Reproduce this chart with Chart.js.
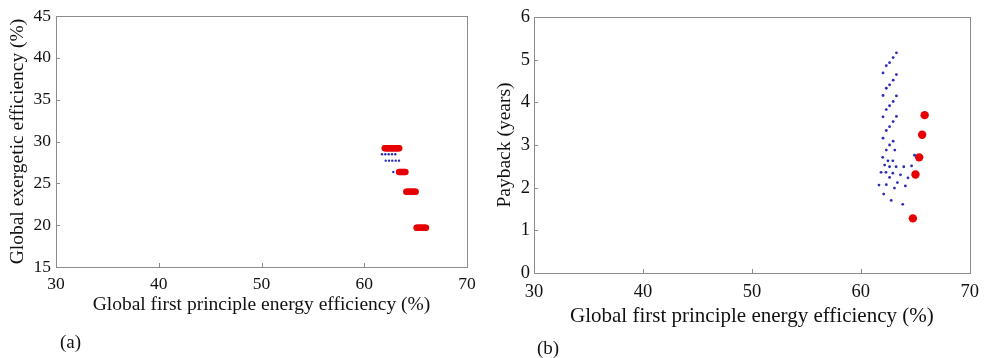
<!DOCTYPE html>
<html>
<head>
<meta charset="utf-8">
<script src="https://cdn.jsdelivr.net/npm/chart.js@4/dist/chart.umd.min.js"></script>
<style>
  html,body{margin:0;padding:0;background:#fff;}
  #wrap{position:relative;width:987px;height:358px;overflow:hidden;}
  .cv{position:absolute;top:0;}
  .tag{position:absolute;font-family:"Liberation Serif","Times New Roman",serif;font-size:19px;color:#111;line-height:1;}
</style>
</head>
<body>
<div id="wrap">
  <div class="cv" style="left:0;width:488px;height:358px;"><canvas id="chartA"></canvas></div>
  <div class="cv" style="left:488px;width:499px;height:358px;"><canvas id="chartB"></canvas></div>
  <div class="tag" style="left:60px;top:332px;">(a)</div>
  <div class="tag" style="left:537px;top:338px;">(b)</div>
</div>
<script>
// ---- data ----
// (a) exergetic efficiency vs first-principle efficiency
const aRedX = [62.0,62.1,62.2,62.3,62.4,62.5,62.6,62.7,62.8,62.9,63.0,63.1,63.2,63.3,63.4,
               63.4,63.5,63.6,63.7,63.8,63.9,64.0,
               64.1,64.2,64.3,64.4,64.5,64.6,64.7,64.8,64.9,65.0,
               65.1,65.2,65.3,65.4,65.5,65.6,65.7,65.8,65.9,66.0];
const aRedY = [29.2,29.2,29.2,29.2,29.2,29.2,29.2,29.2,29.2,29.2,29.2,29.2,29.2,29.2,29.2,
               26.35,26.35,26.35,26.35,26.35,26.35,26.35,
               24.0,24.0,24.0,24.0,24.0,24.0,24.0,24.0,24.0,24.0,
               19.7,19.7,19.7,19.7,19.7,19.7,19.7,19.7,19.7,19.7];
const aBlueX = [61.73,62.05,62.38,62.70,63.02, 62.09,62.41,62.73,63.06,63.38, 62.83];
const aBlueY = [28.47,28.47,28.47,28.47,28.47, 27.71,27.71,27.71,27.71,27.71, 26.36];

// (b) payback vs first-principle efficiency
const bRedX = [65.86,65.63,65.36,65.02,64.78];
const bRedY = [3.70,3.24,2.71,2.31,1.28];
const bBlueX = [63.27,62.97,62.64,62.34,62.04, 63.27,62.97,62.64,62.34,62.04,
                63.27,62.97,62.64,62.34,62.04, 63.27,62.97,62.64,62.34,62.04,
                62.97,62.64,62.34,63.12,62.01, 62.49,62.94,64.93,62.19,62.64,
                63.24,63.94,64.66,61.86,62.31, 62.94,63.64,64.33,62.64,61.67,
                62.34,63.09,63.36,64.09,62.10, 62.79,63.85];
const bBlueY = [5.16,5.05,4.93,4.86,4.69, 4.65,4.52,4.41,4.33,4.16,
                4.15,4.02,3.92,3.83,3.66, 3.67,3.55,3.43,3.34,3.16,
                3.09,3.00,2.88,2.88,2.71, 2.63,2.63,2.76,2.53,2.49,
                2.49,2.49,2.51,2.36,2.36, 2.34,2.30,2.23,2.24,2.06,
                2.07,1.99,2.12,2.04,1.85, 1.70,1.61];

const xTitle = 'Global first principle energy efficiency (%)';
const FONT = '"Liberation Serif","Times New Roman",serif';

function pts(xs, ys){ return xs.map((x,i)=>({x, y: ys[i]})); }

// box around plot + short inner ticks on bottom/left (MATLAB look)
const matlabBox = {
  id:'matlabBox',
  afterDatasetsDraw(chart){
    const {ctx, chartArea:a, scales} = chart;
    ctx.save();
    ctx.strokeStyle = '#8c8c8c'; ctx.lineWidth = 1;
    ctx.strokeRect(Math.round(a.left)+0.5, Math.round(a.top)+0.5, Math.round(a.right-a.left), Math.round(a.bottom-a.top));
    ctx.beginPath();
    scales.x.ticks.forEach(t=>{
      const px = Math.round(scales.x.getPixelForValue(t.value))+0.5;
      ctx.moveTo(px, a.bottom); ctx.lineTo(px, a.bottom-4);
    });
    scales.y.ticks.forEach(t=>{
      const py = Math.round(scales.y.getPixelForValue(t.value))+0.5;
      ctx.moveTo(a.left, py); ctx.lineTo(a.left+4, py);
    });
    ctx.stroke();
    ctx.restore();
  }
};

function makeChart(id, cfg){
  const c = cfg;
  return new Chart(document.getElementById(id), {
    type:'scatter',
    data:{ datasets:[
      { data: pts(c.blueX, c.blueY), backgroundColor:'#2b2bb5', borderWidth:0, pointRadius:c.blueR, order:0 },
      { data: pts(c.redX, c.redY), backgroundColor:'#e60000', borderWidth:0, pointRadius:c.redR, order:1 }
    ]},
    options:{
      responsive:true, maintainAspectRatio:false, animation:false,
      layout:{ padding:{ top:c.padTop, right:c.padRight, bottom:c.padBottom, left:0 } },
      plugins:{ legend:{display:false}, tooltip:{enabled:false} },
      scales:{
        x:{ type:'linear', min:30, max:70,
            ticks:{ stepSize:10, color:'#111', padding:c.xTickPad, font:{family:FONT, size:c.tickSize}, maxRotation:0 },
            grid:{ display:false, drawTicks:false }, border:{ display:false },
            title:{ display:true, text:xTitle, color:'#111', font:{family:FONT, size:c.titleSize, lineHeight:1}, padding:{top:0,bottom:2} },
            afterFit(s){ s.height = c.xHeight; } },
        y:{ type:'linear', min:c.yMin, max:c.yMax,
            ticks:{ stepSize:c.yStep, color:'#111', padding:c.yTickPad, font:{family:FONT, size:c.tickSize} },
            grid:{ display:false, drawTicks:false }, border:{ display:false },
            title:{ display:true, text:c.yTitle, color:'#111', font:{family:FONT, size:c.yTitleSize, lineHeight:1}, padding:{top:c.yTitlePad,bottom:0} },
            afterFit(s){ s.width = c.yWidth; } }
      }
    },
    plugins:[matlabBox]
  });
}

makeChart('chartA', {
  redX:aRedX, redY:aRedY, blueX:aBlueX, blueY:aBlueY, redR:3.3, blueR:1.2,
  yMin:15, yMax:45, yStep:5, yTitle:'Global exergetic efficiency (%)',
  padTop:16, padRight:21, padBottom:41, xHeight:50, yWidth:56,
  tickSize:17.5, titleSize:19.5, yTitleSize:19.5, xTickPad:7, yTickPad:5, yTitlePad:8
});
makeChart('chartB', {
  redX:bRedX, redY:bRedY, blueX:bBlueX, blueY:bBlueY, redR:4.2, blueR:1.4,
  yMin:0, yMax:6, yStep:1, yTitle:'Payback (years)',
  padTop:17, padRight:11, padBottom:29, xHeight:56, yWidth:46,
  tickSize:18.5, titleSize:21, yTitleSize:19.5, xTickPad:8, yTickPad:4, yTitlePad:7
});
</script>
</body>
</html>
